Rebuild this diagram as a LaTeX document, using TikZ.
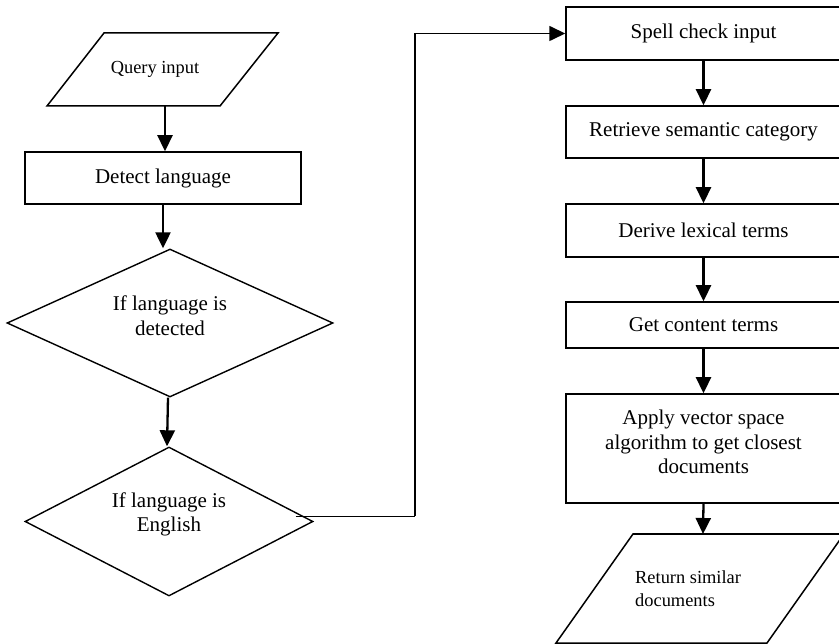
\documentclass[tikz,border=0pt]{standalone}
\usepackage{fontspec}
\setmainfont{Liberation Serif}
\usetikzlibrary{arrows.meta,shapes.geometric,calc}
\begin{document}
\begin{tikzpicture}[x=1pt,y=-1pt,
  box/.style={draw, line width=1.5pt, rectangle, inner sep=0pt},
  dia/.style={draw, line width=1.4pt, diamond, inner sep=0pt},
  big/.style={font=\fontsize{21}{24.5}\selectfont, align=center, inner sep=0pt},
  small/.style={font=\fontsize{18.4}{23}\selectfont, inner sep=0pt},
  arr/.style={line width=2.3pt, -{Triangle[width=15pt,length=16pt]}},
  conn/.style={line width=1.5pt}]
\useasboundingbox (0,0) rectangle (839,644);
\clip (0,0) rectangle (839,644);
% Query input parallelogram
\draw[line width=1.5pt, line join=miter] (104,33) -- (278,33) -- (220,106) -- (47,106) -- cycle;
\node[small] (query) at (155,69) {Query input};
\coordinate (qbot) at (165,106);
% Detect language
\node[box, minimum width=276pt, minimum height=52pt, big] (detect) at (163,178) {Detect language};
% Diamonds
\node[dia, minimum width=326pt, minimum height=148pt] (d1) at (170,323) {};
\node[big] (d1t) at (170,315.5) {If language is\\detected};
\node[dia, minimum width=288pt, minimum height=149pt] (d2) at (169,521.5) {};
\node[big] (d2t) at (169,514.5) {If language is\\English};
% Right column
\node[box, minimum width=275pt, minimum height=53pt, big] (spell) at (703.5,33.5) {Spell check input};
\node[box, minimum width=275pt, minimum height=52pt, big] (retrieve) at (703.5,132) {Retrieve semantic category};
\node[box, minimum width=275pt, minimum height=53pt, big] (derive) at (703.5,230.5) {Derive lexical terms};
\node[box, minimum width=275pt, minimum height=46pt, big] (content) at (703.5,325) {Get content terms};
\node[box, minimum width=275pt, minimum height=109pt] (apply) at (703.5,448.5) {};
\node[big] (applyt) at (703.5,442) {Apply vector space\\algorithm to get closest\\documents};
% Return parallelogram
\draw[line width=1.5pt, line join=miter] (633,534) -- (844,534) -- (767,643) -- (556,643) -- cycle;
\node[small, align=left, anchor=west] (ret) at (635,588.5) {Return similar\\documents};
\coordinate (rtop) at (703,534);
% Connectors
\draw[arr] (qbot) -- (qbot |- detect.north);
\draw[arr] (detect.south) -- (detect.south |- d1.north);
\draw[arr] ($(d1.south)+(-2,0)$) -- ($(d2.north)+(-2,0)$);
\draw[conn] ($(d2.east)+(-18,-5)$) -- ++(119,0) coordinate (turn);
\draw[arr, line width=1.7pt] (turn) |- (spell.west);
\draw[arr] (spell.south) -- (retrieve.north);
\draw[arr] (retrieve.south) -- (derive.north);
\draw[arr] (derive.south) -- (content.north);
\draw[arr] (content.south) -- (apply.north);
\draw[arr] (apply.south) -- (rtop);
\end{tikzpicture}
\end{document}
